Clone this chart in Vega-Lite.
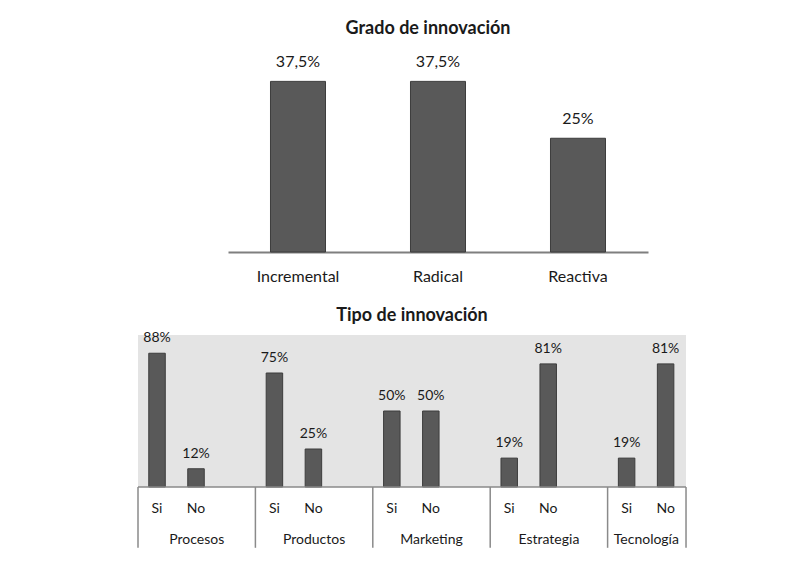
{
  "$schema": "https://vega.github.io/schema/vega-lite/v6.json",
  "background": "white",
  "padding": {"left": 137, "top": 20, "right": 0, "bottom": 0},
  "config": {"font": "Lato", "view": {"stroke": null}},
  "datasets": {
    "grado": [
      {"tipo": "Incremental", "valor": 37.5, "etiqueta": "37,5%"},
      {"tipo": "Radical", "valor": 37.5, "etiqueta": "37,5%"},
      {"tipo": "Reactiva", "valor": 25, "etiqueta": "25%"}
    ],
    "tipoinn": [
      {"grupo": "Procesos", "tipo": "Si", "valor": 88, "etiqueta": "88%"},
      {"grupo": "Procesos", "tipo": "No", "valor": 12, "etiqueta": "12%"},
      {"grupo": "Productos", "tipo": "Si", "valor": 75, "etiqueta": "75%"},
      {"grupo": "Productos", "tipo": "No", "valor": 25, "etiqueta": "25%"},
      {"grupo": "Marketing", "tipo": "Si", "valor": 50, "etiqueta": "50%"},
      {"grupo": "Marketing", "tipo": "No", "valor": 50, "etiqueta": "50%"},
      {"grupo": "Estrategia", "tipo": "Si", "valor": 19, "etiqueta": "19%"},
      {"grupo": "Estrategia", "tipo": "No", "valor": 81, "etiqueta": "81%"},
      {"grupo": "Tecnología", "tipo": "Si", "valor": 19, "etiqueta": "19%"},
      {"grupo": "Tecnología", "tipo": "No", "valor": 81, "etiqueta": "81%"}
    ],
    "grupos": [
      {"grupo": "Procesos"},
      {"grupo": "Productos"},
      {"grupo": "Marketing"},
      {"grupo": "Estrategia"},
      {"grupo": "Tecnología"}
    ]
  },
  "bounds": "flush",
  "spacing": 83,
  "vconcat": [
    {
      "width": 548,
      "height": 182,
      "title": {"text": "Grado de innovación", "frame": "group", "offset": 2, "baseline": "alphabetic", "fontSize": 18, "fontWeight": "bold", "dx": 16, "anchor": "middle", "color": "#1a1a1a", "font": "Lato"},
      "data": {"name": "grado"},
      "encoding": {
        "x": {"field": "tipo", "type": "nominal", "sort": null,
          "scale": {"range": [90, 510], "paddingInner": 0.607, "paddingOuter": 0.3035},
          "axis": {"title": null, "ticks": false, "labelAngle": 0, "labelFontSize": 16, "labelPadding": 16, "domainColor": "#7f7f7f", "domainWidth": 2, "labelColor": "#1a1a1a", "labelFont": "Lato"}},
        "y": {"field": "valor", "type": "quantitative", "scale": {"domain": [0, 40]}, "axis": null}
      },
      "layer": [
        {"mark": {"type": "bar", "color": "#595959", "stroke": "#3d3d3d", "strokeWidth": 1}},
        {"mark": {"type": "text", "dy": -14, "baseline": "alphabetic", "fontSize": 16, "color": "#1a1a1a"}, "encoding": {"text": {"field": "etiqueta"}}}
      ]
    },
    {
      "width": 548,
      "height": 152,
      "view": {"fill": "#e4e4e4", "stroke": null},
      "title": {"text": "Tipo de innovación", "frame": "group", "offset": -8, "baseline": "alphabetic", "fontSize": 18, "fontWeight": "bold", "anchor": "middle", "color": "#1a1a1a", "font": "Lato"},
      "layer": [
        {
          "data": {"name": "tipoinn"},
          "mark": {"type": "bar", "color": "#595959", "stroke": "#3d3d3d", "strokeWidth": 1},
          "encoding": {
            "x": {"field": "grupo", "type": "nominal", "sort": ["Procesos", "Productos", "Marketing", "Estrategia", "Tecnología"], "scale": {"range": [0, 587], "paddingInner": 0, "paddingOuter": 0}, "axis": null},
            "xOffset": {"field": "tipo", "type": "nominal", "sort": ["Si", "No"], "scale": {"paddingInner": 0.577, "paddingOuter": 0.794, "align": 0.174}},
            "y": {"field": "valor", "type": "quantitative", "scale": {"domain": [0, 100]}, "axis": null}
          }
        },
        {
          "data": {"name": "tipoinn"},
          "mark": {"type": "text", "dy": -11, "baseline": "alphabetic", "fontSize": 14, "color": "#1a1a1a"},
          "encoding": {
            "x": {"field": "grupo", "type": "nominal", "sort": ["Procesos", "Productos", "Marketing", "Estrategia", "Tecnología"]},
            "xOffset": {"field": "tipo", "type": "nominal", "sort": ["Si", "No"]},
            "y": {"field": "valor", "type": "quantitative"},
            "text": {"field": "etiqueta"}
          }
        },
        {
          "data": {"name": "tipoinn"},
          "mark": {"type": "text", "dy": 26, "baseline": "alphabetic", "fontSize": 14, "color": "#1a1a1a"},
          "encoding": {
            "x": {"field": "grupo", "type": "nominal", "sort": ["Procesos", "Productos", "Marketing", "Estrategia", "Tecnología"]},
            "xOffset": {"field": "tipo", "type": "nominal", "sort": ["Si", "No"]},
            "y": {"datum": 0},
            "text": {"field": "tipo"}
          }
        },
        {
          "data": {"values": [{}]},
          "mark": {"type": "rule", "color": "#8a8a8a", "strokeWidth": 1.5},
          "encoding": {"y": {"datum": 0}}
        },
        {
          "data": {"name": "grupos"},
          "mark": {"type": "rule", "color": "#8a8a8a", "strokeWidth": 1.5},
          "encoding": {
            "x": {"field": "grupo", "type": "nominal", "sort": ["Procesos", "Productos", "Marketing", "Estrategia", "Tecnología"], "bandPosition": 0},
            "y": {"datum": 0},
            "y2": {"datum": -40}
          }
        },
        {
          "data": {"values": [{"grupo": "Tecnología"}]},
          "mark": {"type": "rule", "color": "#8a8a8a", "strokeWidth": 1.5},
          "encoding": {
            "x": {"field": "grupo", "type": "nominal", "sort": ["Procesos", "Productos", "Marketing", "Estrategia", "Tecnología"], "bandPosition": 0.668},
            "y": {"datum": 0},
            "y2": {"datum": -40}
          }
        },
        {
          "data": {"name": "grupos"},
          "transform": [{"filter": "datum.grupo != 'Tecnología'"}],
          "mark": {"type": "text", "dy": 57, "baseline": "alphabetic", "fontSize": 14, "color": "#1a1a1a"},
          "encoding": {
            "x": {"field": "grupo", "type": "nominal", "sort": ["Procesos", "Productos", "Marketing", "Estrategia", "Tecnología"], "bandPosition": 0.5},
            "y": {"datum": 0},
            "text": {"field": "grupo"}
          }
        },
        {
          "data": {"values": [{"grupo": "Tecnología"}]},
          "mark": {"type": "text", "dy": 57, "baseline": "alphabetic", "fontSize": 14, "color": "#1a1a1a"},
          "encoding": {
            "x": {"field": "grupo", "type": "nominal", "sort": ["Procesos", "Productos", "Marketing", "Estrategia", "Tecnología"], "bandPosition": 0.33},
            "y": {"datum": 0},
            "text": {"field": "grupo"}
          }
        }
      ]
    }
  ]
}
